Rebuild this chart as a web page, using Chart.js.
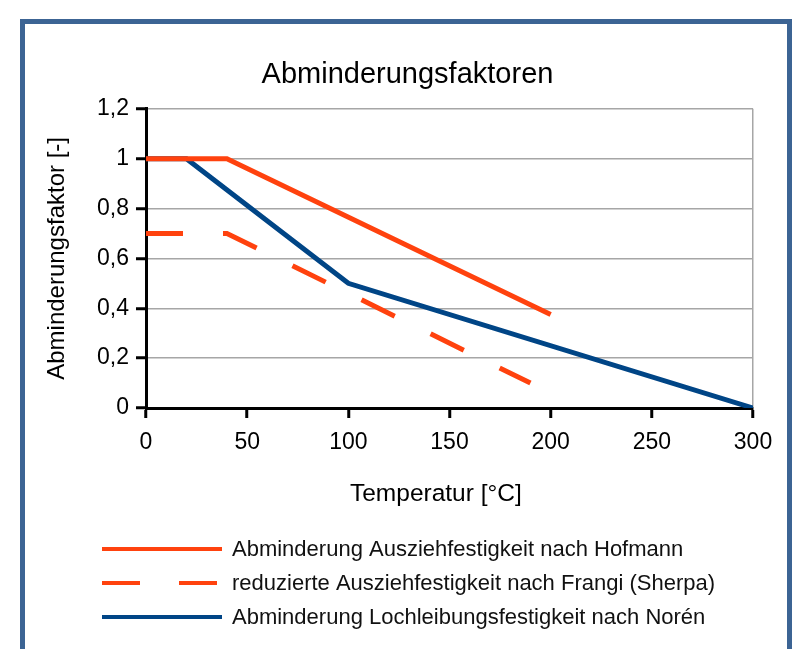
<!DOCTYPE html>
<html lang="de">
<head>
<meta charset="utf-8">
<title>Abminderungsfaktoren</title>
<script src="https://cdn.jsdelivr.net/npm/chart.js@4/dist/chart.umd.min.js"></script>
<style>
  html, body { margin: 0; padding: 0; background: #fff; }
  #frame {
    position: absolute; left: 20px; top: 19px;
    width: 762px; height: 700px;
    border: 5px solid #3c6494;
  }
  #holder { position: absolute; left: 0; top: 0; width: 804px; height: 649px; overflow: hidden; }
</style>
</head>
<body>
<div id="frame"></div>
<div id="holder"><canvas id="chart" width="804" height="649"></canvas></div>
<script>
  // Werte
  const hofmannTemp = [0, 40, 200];
  const hofmannFactor = [1, 1, 0.375];
  const frangiTemp = [0, 40, 190];
  const frangiFactor = [0.7, 0.7, 0.1];
  const norenTemp = [0, 20, 100, 300];
  const norenFactor = [1, 1, 0.5, 0];

  const seriesNames = [
    'Abminderung Ausziehfestigkeit nach Hofmann',
    'reduzierte Ausziehfestigkeit nach Frangi (Sherpa)',
    'Abminderung Lochleibungsfestigkeit nach Norén'
  ];

  const ORANGE = '#ff420e';
  const BLUE = '#004586';
  const GRID = '#a6a6a6';
  const FONT = 'Liberation Sans, Arial, sans-serif';

  const toPoints = (xs, ys) => xs.map((x, i) => ({x: x, y: ys[i]}));

  // Legende wie im Original untereinander, links buendig
  const sideLegend = {
    id: 'sideLegend',
    afterDraw(chart) {
      const ctx = chart.ctx;
      const rows = [549, 583, 617];
      ctx.save();
      ctx.font = '22px ' + FONT;
      ctx.textBaseline = 'middle';
      chart.data.datasets.forEach((ds, i) => {
        ctx.beginPath();
        ctx.strokeStyle = ds.borderColor;
        ctx.lineWidth = 4;
        ctx.setLineDash(ds.borderDash ? [38, 39] : []);
        ctx.moveTo(102, rows[i]);
        ctx.lineTo(222, rows[i]);
        ctx.stroke();
        ctx.setLineDash([]);
        ctx.fillStyle = '#111';
        ctx.fillText(ds.label, 232, rows[i] + 1);
      });
      ctx.restore();
    }
  };

  const config = {
    type: 'line',
    data: {
      datasets: [{
        label: seriesNames[0],
        data: toPoints(hofmannTemp, hofmannFactor),
        borderColor: ORANGE,
        borderWidth: 5
      }, {
        label: seriesNames[1],
        data: toPoints(frangiTemp, frangiFactor),
        borderColor: ORANGE,
        borderWidth: 5,
        borderDash: [37, 40]
      }, {
        label: seriesNames[2],
        data: toPoints(norenTemp, norenFactor),
        borderColor: BLUE,
        borderWidth: 5
      }]
    },
    options: {
      responsive: false,
      animation: false,
      elements: { point: { radius: 0 }, line: { tension: 0 } },
      layout: { padding: { left: 62, right: 51, top: 0, bottom: 139.6 } },
      plugins: {
        legend: { display: false },
        tooltip: { enabled: false },
        title: {
          display: true,
          text: 'Abminderungsfaktoren',
          color: '#000',
          font: { family: FONT, size: 29, weight: 'normal' },
          padding: { top: 58, bottom: 16 }
        }
      },
      scales: {
        x: {
          type: 'linear',
          min: 0,
          max: 300,
          afterFit(scale) { scale.height = 101.4; },
          ticks: {
            stepSize: 50,
            padding: 11,
            color: '#000',
            font: { family: FONT, size: 23 }
          },
          grid: {
            color: c => (c.tick && c.tick.value === 300) ? GRID : 'rgba(0,0,0,0)',
            lineWidth: 1.5,
            tickColor: '#000',
            tickWidth: 3,
            tickLength: 10
          },
          border: { color: '#000', width: 3 },
          title: {
            display: true,
            // im Original etwas links von der Mitte
            text: 'Temperatur [°C]\u00a0\u00a0\u00a0\u00a0',
            color: '#000',
            font: { family: FONT, size: 24.5 },
            padding: { top: 13, bottom: 0 }
          }
        },
        y: {
          min: 0,
          max: 1.2,
          afterFit(scale) { scale.width = 84; },
          ticks: {
            stepSize: 0.2,
            padding: 7,
            color: '#000',
            font: { family: FONT, size: 23 },
            callback: v => String(Math.round(v * 10) / 10).replace('.', ',')
          },
          grid: {
            color: GRID,
            lineWidth: 1.5,
            tickColor: '#000',
            tickWidth: 3,
            tickLength: 10
          },
          border: { color: '#000', width: 3 },
          title: {
            display: true,
            text: 'Abminderungsfaktor [-]',
            color: '#000',
            font: { family: FONT, size: 24 },
            padding: { top: -19, bottom: 19 }
          }
        }
      }
    },
    plugins: [sideLegend]
  };

  window.onload = function () {
    const ctx = document.getElementById('chart').getContext('2d');
    window.myChart = new Chart(ctx, config);
  };
</script>
</body>
</html>
